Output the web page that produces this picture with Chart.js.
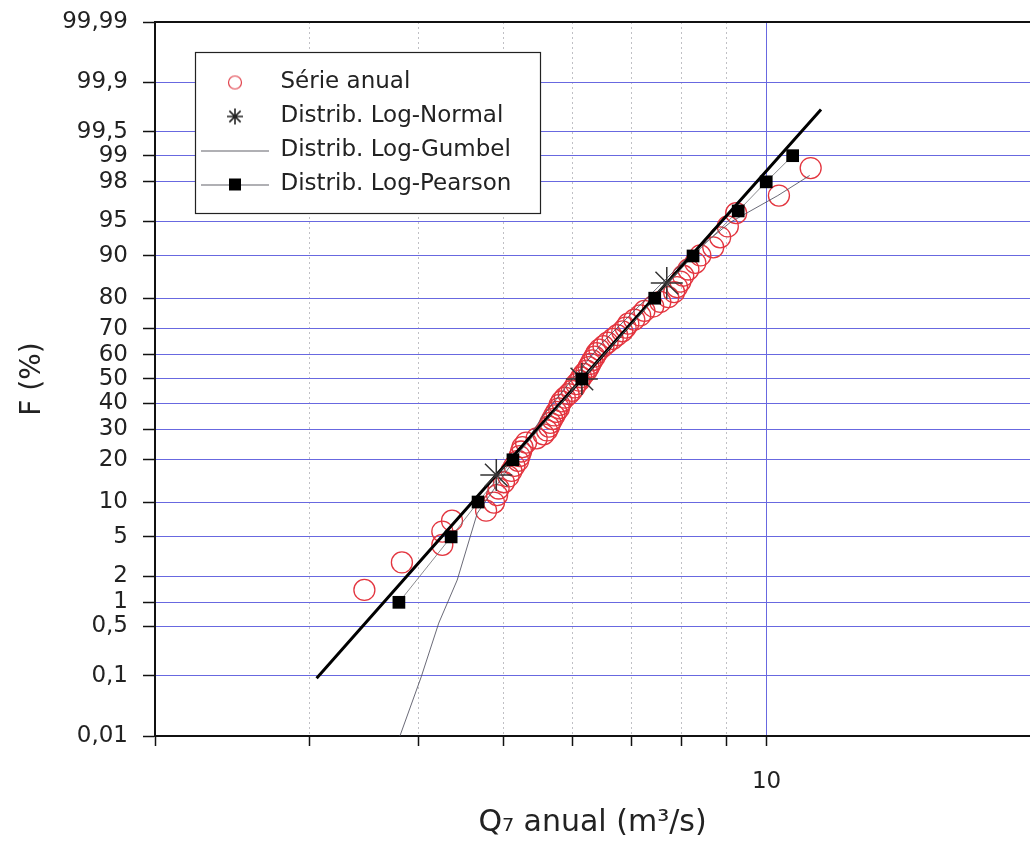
<!DOCTYPE html>
<html>
<head>
<meta charset="utf-8">
<title>Q7 anual - probabilidade</title>
<script src="https://cdn.jsdelivr.net/npm/chart.js@4.4.1/dist/chart.umd.min.js"></script>
<style>
  html, body { margin: 0; padding: 0; background: #fff; }
  #wrap { width: 1030px; height: 841px; }
</style>
</head>
<body>
<div id="wrap"><canvas id="probChart" width="1030" height="841"></canvas></div>
<script>
// annual series, sorted; F = plotting position (%)
const Q_ANUAL = [3.47, 3.83, 4.26, 4.26, 4.37, 4.78, 4.88, 4.92, 4.94, 5.01,
  5.07, 5.11, 5.15, 5.20, 5.22, 5.24, 5.26, 5.31, 5.46, 5.56,
  5.61, 5.64, 5.66, 5.69, 5.72, 5.75, 5.79, 5.80, 5.83, 5.88,
  5.94, 5.99, 6.03, 6.06, 6.11, 6.14, 6.18, 6.23, 6.26, 6.29,
  6.32, 6.36, 6.39, 6.44, 6.51, 6.58, 6.67, 6.75, 6.84, 6.90,
  6.95, 7.06, 7.17, 7.25, 7.42, 7.56, 7.72, 7.84, 7.90, 7.97,
  8.03, 8.14, 8.29, 8.40, 8.69, 8.85, 9.03, 9.23, 10.33, 11.23];
const F_ANUAL = [1.4, 2.8, 4.2, 5.6, 7.0, 8.5, 9.9, 11.3, 12.7, 14.1,
  15.5, 16.9, 18.3, 19.7, 21.1, 22.5, 23.9, 25.4, 26.8, 28.2,
  29.6, 31.0, 32.4, 33.8, 35.2, 36.6, 38.0, 39.4, 40.8, 42.3,
  43.7, 45.1, 46.5, 47.9, 49.3, 50.7, 52.1, 53.5, 54.9, 56.3,
  57.7, 59.2, 60.6, 62.0, 63.4, 64.8, 66.2, 67.6, 69.0, 70.4,
  71.8, 73.2, 74.6, 76.1, 77.5, 78.9, 80.3, 81.7, 83.1, 84.5,
  85.9, 87.3, 88.7, 90.1, 91.5, 93.0, 94.4, 95.8, 97.2, 98.6];

// fitted distributions
const Q_NORMAL = [3.06, 4.91, 6.15, 7.69, 11.54];
const F_NORMAL = [0.091, 15.87, 50, 84.13, 99.75];

const Q_GUMBEL = [3.81, 4.03, 4.22, 4.43, 4.67, 5.15, 5.55, 6.0, 6.5, 7.3, 8.15, 9.10, 10.3, 11.2];
const F_GUMBEL = [0.01, 0.096, 0.55, 1.81, 8.1, 20, 35, 50, 65, 80, 90, 94.9, 97.2, 98.3];

const Q_PEARSON = [3.80, 4.36, 4.68, 5.13, 6.15, 7.45, 8.24, 9.28, 9.99, 10.71];
const F_PEARSON = [1, 5, 10, 20, 50, 80, 90, 96, 98, 99];

const SERIES_NAMES = ['Série anual', 'Distrib. Log-Normal', 'Distrib. Log-Gumbel', 'Distrib. Log-Pearson'];

// axis ticks
const X_TICKS = [2, 3, 4, 5, 6, 7, 8, 9, 10, 20];
const Y_TICKS = [0.01, 0.1, 0.5, 1, 2, 5, 10, 20, 30, 40, 50, 60, 70, 80, 90, 95, 98, 99, 99.5, 99.9, 99.99];

const GRID_BLUE = 'rgb(104, 104, 224)';
const TEXT = '#222';

Chart.defaults.font.family = "'DejaVu Sans', sans-serif";

// inverse of the standard normal cdf (Acklam)
function probit(p) {
    const a = [-39.69683028665376, 220.9460984245205, -275.9285104469687, 138.3577518672690, -30.66479806614716, 2.506628277459239];
    const b = [-54.47609879822406, 161.5858368580409, -155.6989798598866, 66.80131188771972, -13.28068155288572];
    const c = [-0.007784894002430293, -0.3223964580411365, -2.400758277161838, -2.549732539343734, 4.374664141464968, 2.938163982698783];
    const d = [0.007784695709041462, 0.3224671290700398, 2.445134137142996, 3.754408661907416];
    const lo = 0.02425;
    if (p < lo) {
        const q = Math.sqrt(-2 * Math.log(p));
        return (((((c[0] * q + c[1]) * q + c[2]) * q + c[3]) * q + c[4]) * q + c[5]) /
            ((((d[0] * q + d[1]) * q + d[2]) * q + d[3]) * q + 1);
    }
    if (p > 1 - lo) {
        const q = Math.sqrt(-2 * Math.log(1 - p));
        return -(((((c[0] * q + c[1]) * q + c[2]) * q + c[3]) * q + c[4]) * q + c[5]) /
            ((((d[0] * q + d[1]) * q + d[2]) * q + d[3]) * q + 1);
    }
    const q = p - 0.5;
    const r = q * q;
    return (((((a[0] * r + a[1]) * r + a[2]) * r + a[3]) * r + a[4]) * r + a[5]) * q /
        (((((b[0] * r + b[1]) * r + b[2]) * r + b[3]) * r + b[4]) * r + 1);
}

// normal probability scale, values in %
class ProbabilityScale extends Chart.LinearScale {
    static id = 'probability';
    determineDataLimits() {
        this.min = this.options.min;
        this.max = this.options.max;
    }
    buildTicks() {
        return Y_TICKS.map(v => ({ value: v }));
    }
    configure() {
        super.configure();
        this._zStart = probit(this.min / 100);
        this._zEnd = probit(this.max / 100);
    }
    getPixelForValue(value) {
        const z = probit(value / 100);
        return this.getPixelForDecimal((z - this._zStart) / (this._zEnd - this._zStart));
    }
    getValueForPixel(pixel) {
        let lo = this.min, hi = this.max;
        for (let i = 0; i < 40; i++) {
            const mid = (lo + hi) / 2;
            const px = this.getPixelForValue(mid);
            if (px > pixel) lo = mid; else hi = mid;
        }
        return (lo + hi) / 2;
    }
}
Chart.register(ProbabilityScale);

function toPoints(qs, fs) {
    return qs.map((q, i) => ({ x: q, y: fs[i] }));
}

function makeIcon(w, h, paint) {
    const c = document.createElement('canvas');
    c.width = w;
    c.height = h;
    paint(c.getContext('2d'), w, h);
    return c;
}

const legendIcons = [
    makeIcon(18, 18, (g) => {
        g.strokeStyle = '#e0404a';
        g.lineWidth = 1.2;
        g.beginPath();
        g.arc(9, 9, 6.5, 0, Math.PI * 2);
        g.stroke();
    }),
    makeIcon(20, 20, (g) => {
        g.strokeStyle = '#222';
        g.lineWidth = 1.6;
        g.beginPath();
        for (let k = 0; k < 4; k++) {
            const a = k * Math.PI / 4;
            g.moveTo(10 + Math.cos(a) * 8, 10 + Math.sin(a) * 8);
            g.lineTo(10 - Math.cos(a) * 8, 10 - Math.sin(a) * 8);
        }
        g.stroke();
    }),
    makeIcon(68, 4, (g, w) => {
        g.strokeStyle = 'rgba(80, 80, 90, 0.9)';
        g.lineWidth = 1;
        g.beginPath();
        g.moveTo(0, 2.5);
        g.lineTo(w, 2.5);
        g.stroke();
    }),
    makeIcon(68, 14, (g, w) => {
        g.strokeStyle = 'rgba(80, 80, 90, 0.9)';
        g.lineWidth = 1;
        g.beginPath();
        g.moveTo(0, 7.5);
        g.lineTo(w, 7.5);
        g.stroke();
        g.fillStyle = '#000';
        g.fillRect(w / 2 - 6, 1, 12, 12);
    })
];

// legend sits inside the plot, in a white framed box
const legendFrame = {
    id: 'legendFrame',
    afterLayout(chart) {
        const lg = chart.legend;
        if (!lg) return;
        lg.left = 190;
        lg.top = 60;
        lg.right = chart.chartArea.right;
        lg.bottom = chart.chartArea.bottom;
        if (!lg._framed) {
            const draw = lg.draw.bind(lg);
            lg.draw = function () {
                const ctx = chart.ctx;
                ctx.save();
                ctx.fillStyle = '#fff';
                ctx.fillRect(195, 52, 345, 161);
                ctx.strokeStyle = '#222';
                ctx.lineWidth = 1.2;
                ctx.strokeRect(195.5, 52.5, 345, 161);
                ctx.restore();
                draw();
            };
            lg._framed = true;
        }
    }
};

const lastNormal = Q_NORMAL.length - 1;

new Chart(document.getElementById('probChart'), {
    type: 'scatter',
    data: {
        datasets: [
            {
                label: SERIES_NAMES[0],
                data: toPoints(Q_ANUAL, F_ANUAL),
                showLine: false,
                pointStyle: 'circle',
                pointRadius: 10.5,
                pointBorderWidth: 1.3,
                borderColor: '#e3353f',
                backgroundColor: 'rgba(0,0,0,0)',
                order: 4
            },
            {
                label: SERIES_NAMES[1],
                data: toPoints(Q_NORMAL, F_NORMAL),
                showLine: true,
                borderColor: '#000',
                borderWidth: 3,
                pointStyle: 'star',
                pointRadius: (c) => (c.dataIndex === 0 || c.dataIndex === lastNormal) ? 0 : 16,
                pointBorderColor: '#333',
                pointBorderWidth: 1.5,
                order: 2
            },
            {
                label: SERIES_NAMES[2],
                data: toPoints(Q_GUMBEL, F_GUMBEL),
                showLine: true,
                borderColor: 'rgba(80, 80, 95, 0.85)',
                borderWidth: 1,
                pointRadius: 0,
                order: 3
            },
            {
                label: SERIES_NAMES[3],
                data: toPoints(Q_PEARSON, F_PEARSON),
                showLine: true,
                borderColor: 'rgba(110, 110, 115, 0.8)',
                borderWidth: 1,
                pointStyle: 'rect',
                pointRadius: 9,
                pointBackgroundColor: '#000',
                pointBorderColor: '#000',
                pointBorderWidth: 0,
                order: 1
            }
        ]
    },
    options: {
        responsive: false,
        animation: false,
        devicePixelRatio: 1,
        layout: { autoPadding: false, padding: { top: 22, right: 0, bottom: 0, left: 0 } },
        scales: {
            x: {
                type: 'logarithmic',
                position: 'bottom',
                min: 2,
                max: 20,
                afterBuildTicks: (s) => { s.ticks = X_TICKS.map(v => ({ value: v })); },
                afterFit: (s) => {
                    s.height = 105;
                    s.paddingLeft = 0;
                    s.paddingRight = 0;
                },
                ticks: {
                    autoSkip: false,
                    maxRotation: 0,
                    padding: 22,
                    color: TEXT,
                    font: { size: 23 },
                    callback: (v) => v === 10 ? '10' : ''
                },
                grid: {
                    color: (c) => {
                        const v = c.tick && c.tick.value;
                        if (v === 10) return GRID_BLUE;
                        if (v === 2 || v === 20) return 'rgba(0,0,0,0)';
                        return 'rgba(140, 140, 150, 0.55)';
                    },
                    lineWidth: 1,
                    tickLength: 10,
                    tickWidth: 1.5,
                    tickColor: (c) => (c.tick && c.tick.value === 20) ? 'rgba(0,0,0,0)' : '#111'
                },
                border: {
                    color: '#111',
                    width: 2,
                    dash: (c) => (c.tick && c.tick.value !== 10) ? [2, 3] : []
                },
                title: {
                    display: true,
                    text: 'Q₇ anual (m³/s)',
                    color: TEXT,
                    font: { size: 30 },
                    padding: { top: 0, bottom: 0 }
                }
            },
            xTop: {
                type: 'linear',
                position: 'top',
                afterFit: (s) => {
                    s.height = 0;
                    s.paddingLeft = 0;
                    s.paddingRight = 0;
                },
                ticks: { display: false },
                grid: { display: false },
                border: { color: '#111', width: 2 }
            },
            y: {
                type: 'probability',
                position: 'left',
                min: 0.01,
                max: 99.99,
                afterFit: (s) => {
                    s.width = 155;
                    s.paddingTop = 0;
                    s.paddingBottom = 0;
                },
                ticks: {
                    autoSkip: false,
                    padding: 15,
                    color: TEXT,
                    font: { size: 23 },
                    callback: (v) => String(v).replace('.', ',')
                },
                grid: {
                    color: GRID_BLUE,
                    lineWidth: 1,
                    tickLength: 12,
                    tickWidth: 1.5,
                    tickColor: '#111'
                },
                border: { color: '#111', width: 2 },
                title: {
                    display: true,
                    text: 'F (%)',
                    color: TEXT,
                    font: { size: 28 },
                    padding: { top: 16, bottom: 0 }
                }
            }
        },
        plugins: {
            tooltip: { enabled: false },
            legend: {
                position: 'chartArea',
                align: 'start',
                labels: {
                    usePointStyle: true,
                    pointStyleWidth: 68,
                    padding: 11,
                    color: TEXT,
                    font: { size: 23 },
                    generateLabels: (chart) => chart.data.datasets.map((ds, i) => ({
                        text: ds.label,
                        datasetIndex: i,
                        pointStyle: legendIcons[i],
                        fontColor: TEXT,
                        hidden: false,
                        lineWidth: 0,
                        strokeStyle: 'rgba(0,0,0,0)',
                        fillStyle: 'rgba(0,0,0,0)'
                    }))
                }
            }
        }
    },
    plugins: [legendFrame]
});
</script>
</body>
</html>
